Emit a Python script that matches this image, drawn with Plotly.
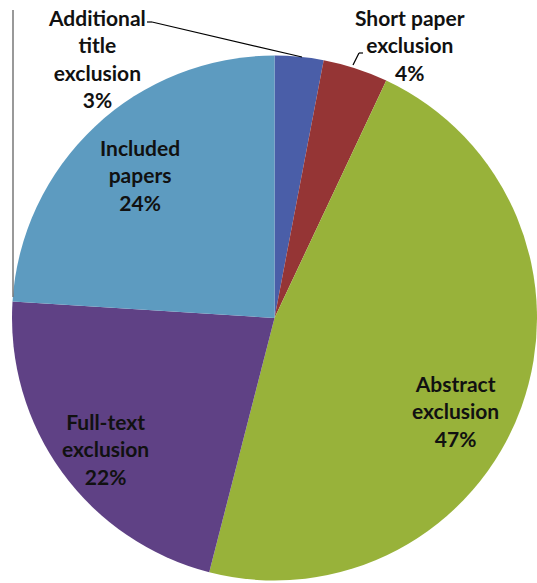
import plotly.graph_objects as go

labels = ["Additional title exclusion", "Short paper exclusion", "Abstract exclusion",
          "Full-text exclusion", "Included papers"]
values = [3, 4, 47, 22, 24]
colors = ["#4A5EA8", "#953535", "#98B23A", "#5F4185", "#5D9BC0"]
label_text = ["Additional<br>title<br>exclusion<br>3%", "Short paper<br>exclusion<br>4%",
              "Abstract<br>exclusion<br>47%", "Full-text<br>exclusion<br>22%",
              "Included<br>papers<br>24%"]
# label centres in pixel space (x, y from top-left)
label_pos = [(97, 59), (410, 45), (455, 411), (105, 449), (140, 175)]

W, H = 537, 583

fig = go.Figure(go.Pie(
    labels=labels, values=values, sort=False, direction="clockwise", rotation=0,
    marker=dict(colors=colors, line=dict(width=0)),
    textinfo="none", hoverinfo="label+percent", showlegend=False,
    domain=dict(x=[12 / W, 1], y=[0, 1 - 53 / H]),
))

for t, (px, py) in zip(label_text, label_pos):
    fig.add_annotation(x=px / W, y=1 - py / H, xref="paper", yref="paper",
                       text="<b>" + t + "</b>", showarrow=False,
                       font=dict(family="Lato", size=21, color="#111111"),
                       xanchor="center", yanchor="middle", align="center")

def line(x0, y0, x1, y1, color="#000000", width=1.2):
    fig.add_shape(type="line", xref="paper", yref="paper",
                  x0=x0 / W, y0=1 - y0 / H, x1=x1 / W, y1=1 - y1 / H,
                  line=dict(color=color, width=width))

# leader lines
line(147, 22, 152, 22)
line(152, 22, 302, 57)
line(363, 53, 359, 53)
line(359, 53, 353, 65)
# thin vertical rule at left
line(13, 10, 13, 297, color="#777777", width=1.5)

fig.update_layout(width=W, height=H, margin=dict(l=0, r=0, t=0, b=0),
                  paper_bgcolor="white", plot_bgcolor="white")
fig.write_html("out.html")
